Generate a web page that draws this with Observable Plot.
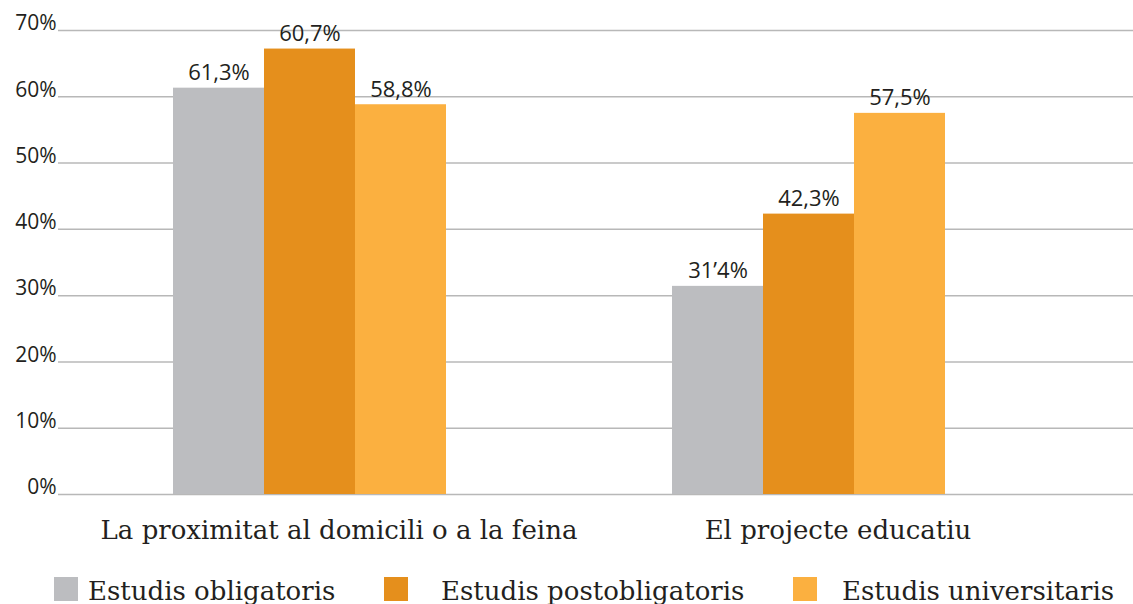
<!DOCTYPE html>
<html>
<head>
<meta charset="utf-8">
<script src="https://cdn.jsdelivr.net/npm/d3@7"></script>
<script src="https://cdn.jsdelivr.net/npm/@observablehq/plot@0.6"></script>
<style>
  html, body { margin: 0; padding: 0; background: #fff; overflow: hidden; }
  #legend { position: relative; width: 1133px; height: 44px; font-family: "DejaVu Serif", serif; font-size: 26px; color: #231f20; }
  .sw { position: absolute; top: 17px; width: 24px; height: 24px; }
  .lt { position: absolute; top: 16px; line-height: 30px; white-space: nowrap; }
</style>
</head>
<body>
<div id="chart"></div>
<div id="legend"></div>
<script>
const groups = ["La proximitat al domicili o a la feina", "El projecte educatiu"];
const series = ["Estudis obligatoris", "Estudis postobligatoris", "Estudis universitaris"];
const colors = ["#bcbdc0", "#e58f1c", "#fbb040"];
// bar heights as drawn in the picture
const valuesObligatoris = [61.3, 31.4];
const valuesPostobligatoris = [67.2, 42.3];
const valuesUniversitaris = [58.8, 57.5];
// printed labels
const labelsObligatoris = ["61,3%", "31’4%"];
const labelsPostobligatoris = ["60,7%", "42,3%"];
const labelsUniversitaris = ["58,8%", "57,5%"];
const yTicks = [0, 10, 20, 30, 40, 50, 60, 70];
const yTickLabels = ["0%", "10%", "20%", "30%", "40%", "50%", "60%", "70%"];

const seriesValues = [valuesObligatoris, valuesPostobligatoris, valuesUniversitaris];
const seriesLabels = [labelsObligatoris, labelsPostobligatoris, labelsUniversitaris];
const rows = [];
series.forEach((s, i) => groups.forEach((g, j) => rows.push({group: g, series: s, si: i, value: seriesValues[i][j], label: seriesLabels[i][j]})));

const bandStart = 59.5, bandEnd = 1057.5;
const bw = (bandEnd - bandStart) / groups.length;
const barW = 91;
const groupOffset = (bw - barW * series.length) / 2;

const marks = [
  Plot.ruleY(yTicks, {stroke: "#b8b8b8", strokeWidth: 1.5}),
  Plot.text(yTicks, {y: d => d, text: (d, i) => yTickLabels[i], frameAnchor: "left", textAnchor: "end", dx: -2, dy: -7, fontSize: 21, fontFamily: "Open Sans", fill: "#231f20"})
];
series.forEach((s, i) => {
  const data = rows.filter(r => r.si === i);
  const left = groupOffset + barW * i;
  marks.push(Plot.barY(data, {x: "group", y: "value", fill: colors[i], insetLeft: left, insetRight: bw - left - barW}));
});
series.forEach((s, i) => {
  const data = rows.filter(r => r.si === i);
  const center = groupOffset + barW * i + barW / 2 - bw / 2;
  marks.push(Plot.text(data, {x: "group", y: "value", text: "label", dx: center, dy: -15, fontSize: 22, fontFamily: "Open Sans", fill: "#231f20"}));
});
marks.push(Plot.axisX({tickSize: 0, tickPadding: 26, fontSize: 26, fontFamily: "DejaVu Serif", fill: "#231f20", dx: 29, label: null}));

const chart = Plot.plot({
  width: 1133,
  height: 560,
  marginLeft: 58,
  marginRight: 0,
  marginTop: 30,
  marginBottom: 66,
  x: {domain: groups, range: [bandStart, bandEnd], padding: 0, axis: null},
  y: {domain: [0, 70], axis: null},
  style: {background: "#fff", overflow: "visible"},
  marks
});
document.getElementById("chart").appendChild(chart);

const legend = document.getElementById("legend");
const swX = [54, 384, 793];
const txX = [88, 441, 842];
series.forEach((s, i) => {
  const sw = document.createElement("div");
  sw.className = "sw"; sw.style.left = swX[i] + "px"; sw.style.background = colors[i];
  const t = document.createElement("div");
  t.className = "lt"; t.style.left = txX[i] + "px"; t.textContent = s;
  legend.appendChild(sw); legend.appendChild(t);
});
</script>
</body>
</html>
